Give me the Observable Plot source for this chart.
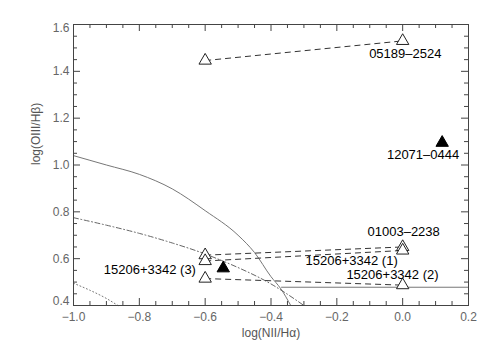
<!DOCTYPE html>
<html>
<head>
<meta charset="utf-8">
<script src="https://cdn.jsdelivr.net/npm/d3@7"></script>
<script src="https://cdn.jsdelivr.net/npm/@observablehq/plot@0.6"></script>
<style>
  html, body { margin: 0; padding: 0; background: #fff; }
  #chart svg { display: block; }
</style>
</head>
<body>
<div id="chart"></div>
<script>
// ---- data ----
// Demarcation curves
const solidX = [-1.0, -0.9, -0.8, -0.7, -0.6, -0.5, -0.45, -0.4, -0.37, -0.34];
const solidY = [1.04, 1.0, 0.96, 0.898, 0.805, 0.70, 0.626, 0.523, 0.471, 0.40];
const dashDotX = [-1.0, -0.9, -0.8, -0.7, -0.6, -0.55, -0.5, -0.4, -0.35, -0.30];
const dashDotY = [0.775, 0.743, 0.708, 0.667, 0.620, 0.592, 0.562, 0.492, 0.448, 0.40];
const dottedX = [-1.0, -0.95, -0.9, -0.865];
const dottedY = [0.495, 0.465, 0.43, 0.40];
const horizX = [-0.368, 0.2];
const horizY = [0.478, 0.478];

// Open-triangle pairs (two estimates per object), joined by dashed lines
const pairNames = ["05189–2524", "01003–2238", "15206+3342 (1)", "15206+3342 (2)"];
const pairX1 = [-0.6, -0.6, -0.6, -0.6];
const pairY1 = [1.446, 0.615, 0.59, 0.515];
const pairX2 = [0.0, 0.0, 0.0, 0.0];
const pairY2 = [1.53, 0.65, 0.635, 0.487];

// Filled triangles
const filledNames = ["12071–0444", "15206+3342 (3)"];
const filledX = [0.12, -0.545];
const filledY = [1.095, 0.559];

// Label anchors (data units)
const labelNames = ["05189–2524", "12071–0444", "01003–2238", "15206+3342 (1)", "15206+3342 (2)", "15206+3342 (3)"];
const labelX = [0.008, 0.062, 0.003, -0.155, -0.031, -0.768];
const labelY = [1.476, 1.045, 0.713, 0.592, 0.533, 0.554];

// Ticks
const xMajor = [-1.0, -0.8, -0.6, -0.4, -0.2, 0.0, 0.2];
const xMinor = [-0.95, -0.9, -0.85, -0.75, -0.7, -0.65, -0.55, -0.5, -0.45, -0.35, -0.3, -0.25, -0.15, -0.1, -0.05, 0.05, 0.1, 0.15];
const yMajor = [0.4, 0.6, 0.8, 1.0, 1.2, 1.4, 1.6];
const yMinor = [0.45, 0.5, 0.55, 0.65, 0.7, 0.75, 0.85, 0.9, 0.95, 1.05, 1.1, 1.15, 1.25, 1.3, 1.35, 1.45, 1.5, 1.55];

const xTitle = "log(NII/Hα)";
const yTitle = "log(OIII/Hβ)";

// ---- build tables ----
const toPts = (xs, ys) => xs.map((x, i) => ({x, y: ys[i]}));
const solid = toPts(solidX, solidY);
const dashDot = toPts(dashDotX, dashDotY);
const dotted = toPts(dottedX, dottedY);
const horiz = toPts(horizX, horizY);
const pairs = pairNames.map((n, i) => ({name: n, x1: pairX1[i], y1: pairY1[i], x2: pairX2[i], y2: pairY2[i]}));
const openPts = pairs.flatMap(p => [{x: p.x1, y: p.y1}, {x: p.x2, y: p.y2}]);
const filled = filledNames.map((n, i) => ({name: n, x: filledX[i], y: filledY[i]}));
const labels = labelNames.map((n, i) => ({name: n, x: labelX[i], y: labelY[i]}));

const W = 491, H = 351, mL = 73, mR = 23, mT = 24, mB = 46;
const innerW = W - mL - mR, innerH = H - mT - mB;
const majorLen = 7, minorLen = 4;
const axisColor = "#444";
const labColor = "#666";
const font = "'Liberation Sans', Arial, Helvetica, sans-serif";
const fmt = d3.format(".1f");

const chart = Plot.plot({
  width: W,
  height: H,
  marginLeft: mL,
  marginRight: mR,
  marginTop: mT,
  marginBottom: mB,
  style: {fontFamily: font, background: "#fff"},
  x: {domain: [-1.0, 0.2], axis: null},
  y: {domain: [0.4, 1.6], axis: null},
  marks: [
    // curves
    Plot.line(solid, {x: "x", y: "y", stroke: "#777", strokeWidth: 1, curve: "monotone-x"}),
    Plot.line(dashDot, {x: "x", y: "y", stroke: "#666", strokeWidth: 1, strokeDasharray: "5,2.5,1,2.5", curve: "monotone-x"}),
    Plot.line(dotted, {x: "x", y: "y", stroke: "#777", strokeWidth: 1, strokeDasharray: "1,2.5", curve: "monotone-x"}),
    Plot.line(horiz, {x: "x", y: "y", stroke: "#777", strokeWidth: 1}),
    // dashed connectors
    Plot.link(pairs, {x1: "x1", y1: "y1", x2: "x2", y2: "y2", stroke: "#333", strokeWidth: 1, strokeDasharray: "6,4"}),
    // triangles
    Plot.dot(openPts, {x: "x", y: "y", symbol: "triangle", r: 4.6, fill: "white", stroke: "#222", strokeWidth: 1}),
    Plot.dot(filled, {x: "x", y: "y", symbol: "triangle", r: 4.6, fill: "black", stroke: "black", strokeWidth: 1}),
    // labels
    Plot.text(labels, {x: "x", y: "y", text: "name", fontSize: 13, fill: "#000", textAnchor: "middle", lineAnchor: "middle"}),
    // frame
    Plot.frame({stroke: axisColor, strokeWidth: 1}),
    // inward ticks, all four sides
    Plot.tickX(xMajor, {x: d => d, insetTop: innerH - majorLen, stroke: axisColor}),
    Plot.tickX(xMinor, {x: d => d, insetTop: innerH - minorLen, stroke: axisColor}),
    Plot.tickX(xMajor, {x: d => d, insetBottom: innerH - majorLen, stroke: axisColor}),
    Plot.tickX(xMinor, {x: d => d, insetBottom: innerH - minorLen, stroke: axisColor}),
    Plot.tickY(yMajor, {y: d => d, insetRight: innerW - majorLen, stroke: axisColor}),
    Plot.tickY(yMinor, {y: d => d, insetRight: innerW - minorLen, stroke: axisColor}),
    Plot.tickY(yMajor, {y: d => d, insetLeft: innerW - majorLen, stroke: axisColor}),
    Plot.tickY(yMinor, {y: d => d, insetLeft: innerW - minorLen, stroke: axisColor}),
    // tick labels
    Plot.text(xMajor, {x: d => d, frameAnchor: "bottom", dy: 12, text: d => fmt(d), fill: labColor, fontSize: 12, lineAnchor: "middle"}),
    Plot.text(yMajor.slice(1, -1), {y: d => d, frameAnchor: "left", dx: -4, text: d => fmt(d), fill: labColor, fontSize: 12, textAnchor: "end", lineAnchor: "middle"}),
    Plot.text(yMajor.slice(0, 1), {y: d => d, frameAnchor: "left", dx: -4, dy: -4, text: d => fmt(d), fill: labColor, fontSize: 12, textAnchor: "end", lineAnchor: "middle"}),
    Plot.text(yMajor.slice(-1), {y: d => d, frameAnchor: "left", dx: -4, dy: 4, text: d => fmt(d), fill: labColor, fontSize: 12, textAnchor: "end", lineAnchor: "middle"}),
    // axis titles
    Plot.text([xTitle], {frameAnchor: "bottom", dy: 28, text: d => d, fill: "#555", fontSize: 12, lineAnchor: "middle"}),
    Plot.text([yTitle], {frameAnchor: "left", dx: -37, rotate: -90, text: d => d, fill: "#555", fontSize: 12, lineAnchor: "middle"})
  ]
});
document.getElementById("chart").appendChild(chart);
</script>
</body>
</html>
